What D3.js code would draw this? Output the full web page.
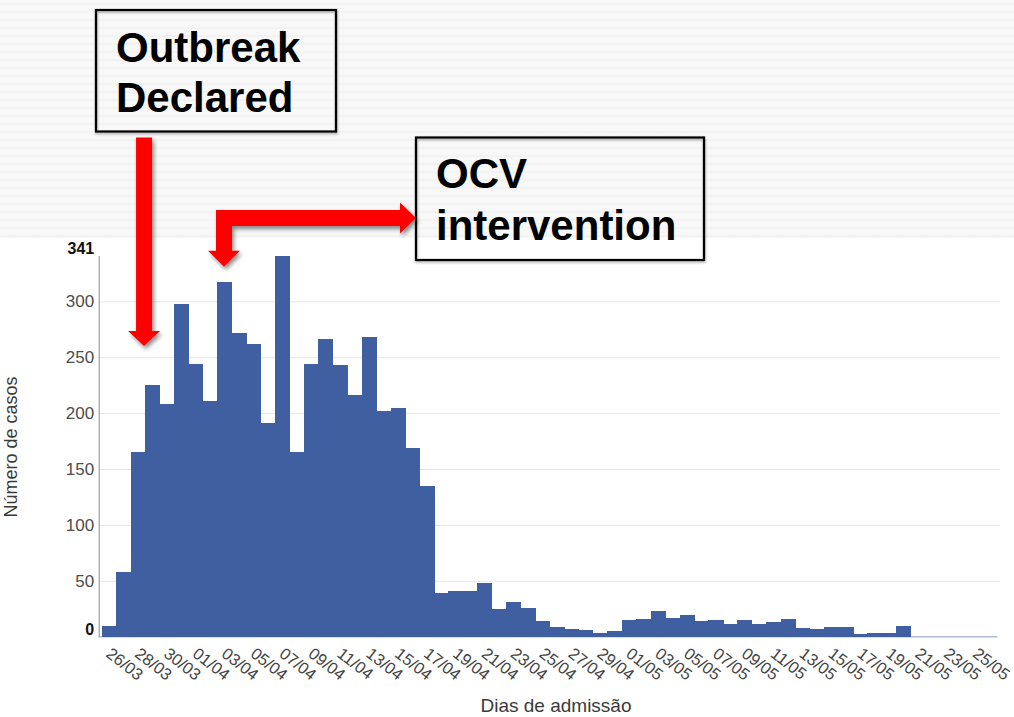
<!DOCTYPE html>
<html><head><meta charset="utf-8">
<script src="https://cdn.jsdelivr.net/npm/d3@7"></script>
<style>
html,body{margin:0;padding:0;background:#fff;}
svg{display:block;font-family:"Liberation Sans",Arial,sans-serif;}
</style></head><body>
<svg id="chart" width="1014" height="717"></svg>
<script>
// ---------- data ----------
const dates = ["26/03","27/03","28/03","29/03","30/03","31/03",
  "01/04","02/04","03/04","04/04","05/04","06/04","07/04","08/04","09/04","10/04",
  "11/04","12/04","13/04","14/04","15/04","16/04","17/04","18/04","19/04","20/04",
  "21/04","22/04","23/04","24/04","25/04","26/04","27/04","28/04","29/04","30/04",
  "01/05","02/05","03/05","04/05","05/05","06/05","07/05","08/05","09/05","10/05",
  "11/05","12/05","13/05","14/05","15/05","16/05","17/05","18/05","19/05","20/05",
  "21/05","22/05","23/05","24/05","25/05","26/05"];
const cases = [10,58,165,225,208,298,
  244,211,317,272,262,191,341,165,244,266,
  243,216,268,202,205,169,135,39,41,41,
  48,25,31,26,14,9,7,6,3,5,
  15,16,23,17,19,14,15,11,15,11,
  13,16,8,7,9,9,2,3,3,10,
  0,0,0,0,0,0];
const xTickLabels = dates.filter((d, i) => i % 2 === 0);
const yTickValues = [0, 50, 100, 150, 200, 250, 300, 341];
const yGridValues = [50, 100, 150, 200, 250, 300];
const yAxisTitle = "Número de casos";
const xAxisTitle = "Dias de admissão";
const outbreakLines = ["Outbreak", "Declared"];
const ocvLines = ["OCV", "intervention"];
const outbreakDate = "29/03";
const ocvDate = "03/04";

// ---------- setup ----------
const svg = d3.select("#chart");
const W = 1014, H = 717;
const plot = {left: 98.7, right: 997.4, top: 255.5, bottom: 636.7};
const barStart = 101.7;

const x = d3.scaleBand().domain(dates).range([barStart, plot.right]).paddingInner(0).paddingOuter(0);
const y = d3.scaleLinear().domain([0, 341]).range([plot.bottom, plot.top]);

const defs = svg.append("defs");
const pat = defs.append("pattern").attr("id", "zig")
  .attr("width", 6).attr("height", 8).attr("patternUnits", "userSpaceOnUse");
pat.append("rect").attr("width", 6).attr("height", 8).attr("fill", "#f8f8f8");
pat.append("path").attr("d", "M0,5 L1.5,3 L3,5 L4.5,3 L6,5")
  .attr("stroke", "#efefef").attr("fill", "none").attr("stroke-width", 1);

const sh = defs.append("filter").attr("id", "shadow")
  .attr("x", "-20%").attr("y", "-20%").attr("width", "150%").attr("height", "160%");
sh.append("feDropShadow").attr("dx", 2).attr("dy", 3).attr("stdDeviation", 2.2)
  .attr("flood-color", "#000").attr("flood-opacity", 0.45);
const bsh = defs.append("filter").attr("id", "boxshadow")
  .attr("x", "-5%").attr("y", "-5%").attr("width", "115%").attr("height", "120%");
bsh.append("feDropShadow").attr("dx", 0.5).attr("dy", 1.5).attr("stdDeviation", 0.8)
  .attr("flood-color", "#000").attr("flood-opacity", 0.35);

// background (slide texture above the chart picture)
svg.append("rect").attr("x", 0).attr("y", 0).attr("width", W).attr("height", H).attr("fill", "#fff");
svg.append("rect").attr("x", 0).attr("y", 0).attr("width", W).attr("height", 238).attr("fill", "url(#zig)");

// grid lines
svg.append("g").attr("transform", `translate(${plot.left},0)`)
  .call(d3.axisLeft(y).tickValues(yGridValues).tickSize(-(1000 - plot.left)).tickFormat(""))
  .call(g => g.select(".domain").remove())
  .call(g => g.selectAll("line").attr("stroke", "#e6e6e6").attr("stroke-width", 1));

// x baseline
svg.append("line").attr("x1", plot.left).attr("x2", plot.right)
  .attr("y1", plot.bottom).attr("y2", plot.bottom)
  .attr("stroke", "#aebcd6").attr("stroke-width", 1.5);

// bars
svg.append("g").attr("shape-rendering", "crispEdges")
  .selectAll("rect").data(dates).join("rect")
  .attr("x", d => x(d))
  .attr("width", x.bandwidth() + 0.6)
  .attr("y", (d, i) => y(cases[i]))
  .attr("height", (d, i) => y(0) - y(cases[i]))
  .attr("fill", "#3f5fa0");

// y axis
const yAxis = svg.append("g").attr("transform", `translate(${plot.left},0)`)
  .call(d3.axisLeft(y).tickValues(yTickValues).tickSize(0).tickPadding(4.5));
yAxis.select(".domain").attr("stroke", "#8a8a8a").attr("stroke-width", 1);
yAxis.selectAll("text")
  .attr("font-size", 17)
  .attr("fill", "#4d4d4d")
  .attr("font-family", "'Liberation Sans',Arial,sans-serif");
yAxis.selectAll(".tick").filter(d => d === 0 || d === 341).select("text")
  .attr("font-weight", "bold").attr("fill", "#111").attr("font-size", 16)
  .attr("dy", "-0.15em");

// x axis labels
const xAxis = svg.append("g").attr("transform", `translate(0,${plot.bottom})`)
  .call(d3.axisBottom(x).tickValues(xTickLabels).tickSize(0));
xAxis.select(".domain").remove();
xAxis.selectAll("text")
  .attr("font-size", 16.5)
  .attr("fill", "#444")
  .attr("font-family", "'Liberation Sans',Arial,sans-serif")
  .attr("text-anchor", "start")
  .attr("x", 0).attr("y", 0).attr("dy", null)
  .attr("transform", "translate(-4,19) rotate(38)");

// axis titles
svg.append("text").attr("transform", "translate(17,447) rotate(-90)")
  .attr("text-anchor", "middle").attr("font-size", 18).attr("fill", "#3a3a3a")
  .text(yAxisTitle);
svg.append("text").attr("x", 556).attr("y", 712)
  .attr("text-anchor", "middle").attr("font-size", 19).attr("fill", "#3a3a3a")
  .text(xAxisTitle);

// annotation boxes
function box(bx, by, bw, bh, lines, tx, baselines) {
  svg.append("rect").attr("x", bx).attr("y", by).attr("width", bw).attr("height", bh)
    .attr("fill", "none").attr("stroke", "#000").attr("stroke-width", 2.2)
    .attr("filter", "url(#boxshadow)");
  lines.forEach((t, i) => {
    svg.append("text").attr("x", tx).attr("y", baselines[i])
      .attr("font-size", 42).attr("font-weight", "bold").attr("fill", "#000")
      .text(t);
  });
}
box(96, 10, 240, 121.5, outbreakLines, 116, [62, 112]);
box(416, 137.5, 288, 122.5, ocvLines, 436, [188, 240]);

// arrows
const sw = 8, hw = 16, hh = 15;
// Outbreak arrow: vertical, pointing down near outbreakDate
const ax1 = x(outbreakDate) - 1, tip1 = y(260);
svg.append("path").attr("fill", "#ff0000").attr("filter", "url(#shadow)")
  .attr("d", d3.line()([
    [ax1 - sw, 137.5], [ax1 + sw, 137.5], [ax1 + sw, tip1 - hh], [ax1 + hw, tip1 - hh],
    [ax1, tip1], [ax1 - hw, tip1 - hh], [ax1 - sw, tip1 - hh]
  ]) + "Z");
// OCV arrow: elbow from box to bar of ocvDate
const ax2 = x(ocvDate) + x.bandwidth() / 2 - 0.5, tip2 = y(331);
const hy = 218, bx2 = 416;
svg.append("path").attr("fill", "#ff0000").attr("filter", "url(#shadow)")
  .attr("d", d3.line()([
    [ax2, tip2], [ax2 + hw, tip2 - hh - 1], [ax2 + sw, tip2 - hh - 1], [ax2 + sw, hy + sw],
    [bx2 - hh - 1, hy + sw], [bx2 - hh - 1, hy + 15.5], [bx2, hy], [bx2 - hh - 1, hy - 15.5],
    [bx2 - hh - 1, hy - sw], [ax2 - sw, hy - sw], [ax2 - sw, tip2 - hh - 1], [ax2 - hw, tip2 - hh - 1]
  ]) + "Z");
</script>
</body></html>
